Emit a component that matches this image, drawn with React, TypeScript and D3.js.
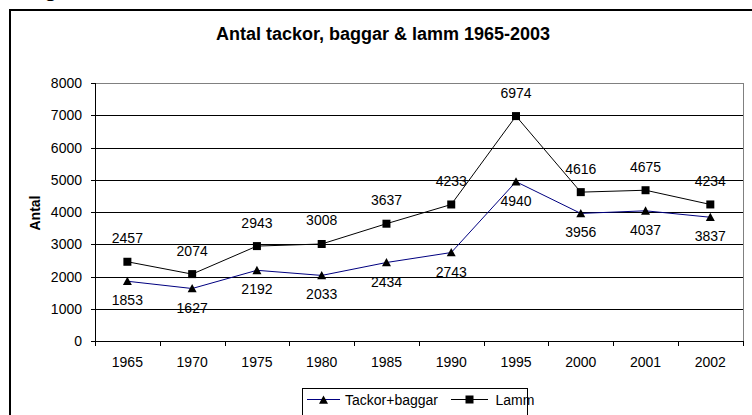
import React from "react";
import * as d3 from "d3";

const years = ["1965", "1970", "1975", "1980", "1985", "1990", "1995", "2000", "2001", "2002"];
const tackorBaggar = [1853, 1627, 2192, 2033, 2434, 2743, 4940, 3956, 4037, 3837];
const lamm = [2457, 2074, 2943, 3008, 3637, 4233, 6974, 4616, 4675, 4234];
const yTicks = [0, 1000, 2000, 3000, 4000, 5000, 6000, 7000, 8000];
const title = "Antal tackor, baggar & lamm 1965-2003";
const yLabel = "Antal";
const seriesNames = ["Tackor+baggar", "Lamm"];

const W = 752;
const H = 415;
const plot = { left: 95, right: 742.7, top: 83, bottom: 341 };
const FONT = "Arial, 'Liberation Sans', sans-serif";

export default function App() {
  const x = d3.scaleBand<string>().domain(years).range([plot.left, plot.right]).padding(0);
  const y = d3.scaleLinear().domain([0, 8000]).range([plot.bottom, plot.top]);
  const cx = (i: number) => (x(years[i]) as number) + x.bandwidth() / 2;
  const line = d3
    .line<number>()
    .x((_, i) => cx(i))
    .y((d) => y(d));

  const snap = (v: number) => Math.round(v) + 0.5;
  const boundaries = years.map((yr) => x(yr) as number).concat([plot.right]);

  const tri = (px: number, py: number, s = 4.5) =>
    `M${px},${py - s}L${px + s},${py + s * 0.85}L${px - s},${py + s * 0.85}Z`;

  return (
    <svg
      width={W}
      height={H}
      style={{ position: "absolute", left: 0, top: 0, background: "#fff" }}
      fontFamily={FONT}
    >
      <rect x={0} y={0} width={W} height={H} fill="#fff" />
      {/* cropped heading above the chart */}
      <text x={44} y={-4} fontSize={22} fontWeight="bold" fill="#000">
        g
      </text>
      {/* outer chart border */}
      <rect x={10} y={10} width={W + 20} height={H + 20} fill="none" stroke="#000" strokeWidth={2} />

      {/* title */}
      <text x={383} y={39.5} fontSize={18} fontWeight="bold" textAnchor="middle" fill="#000">
        {title}
      </text>

      {/* plot area border (gray) */}
      <rect
        x={snap(plot.left)}
        y={snap(plot.top)}
        width={Math.round(plot.right) - Math.round(plot.left)}
        height={Math.round(plot.bottom) - Math.round(plot.top)}
        fill="none"
        stroke="#808080"
        strokeWidth={1}
      />

      {/* gridlines */}
      {yTicks.map((t) => (
        <line
          key={"g" + t}
          x1={plot.left}
          x2={plot.right}
          y1={snap(y(t))}
          y2={snap(y(t))}
          stroke={t === 8000 ? "#808080" : "#000"}
          strokeWidth={1}
          shapeRendering="crispEdges"
        />
      ))}

      {/* axes */}
      <line x1={snap(plot.left)} x2={snap(plot.left)} y1={plot.top} y2={plot.bottom + 1} stroke="#000" shapeRendering="crispEdges" />
      <line x1={plot.left} x2={plot.right} y1={snap(plot.bottom)} y2={snap(plot.bottom)} stroke="#000" shapeRendering="crispEdges" />

      {/* y ticks and labels */}
      {yTicks.map((t) => (
        <g key={"yt" + t}>
          <line x1={plot.left - 4} x2={plot.left} y1={snap(y(t))} y2={snap(y(t))} stroke="#000" shapeRendering="crispEdges" />
          <text x={82} y={y(t) + 5} fontSize={14} textAnchor="end" fill="#000">
            {t}
          </text>
        </g>
      ))}

      {/* x ticks */}
      {boundaries.map((b, i) => (
        <line key={"xt" + i} x1={snap(b)} x2={snap(b)} y1={plot.bottom} y2={plot.bottom + 5} stroke="#000" shapeRendering="crispEdges" />
      ))}
      {years.map((yr, i) => (
        <text key={"xl" + yr} x={cx(i)} y={366.5} fontSize={14} textAnchor="middle" fill="#000">
          {yr}
        </text>
      ))}

      {/* y axis label */}
      <text
        transform={`translate(40,213) rotate(-90)`}
        fontSize={14}
        fontWeight="bold"
        textAnchor="middle"
        fill="#000"
      >
        {yLabel}
      </text>

      {/* lines */}
      <path d={line(tackorBaggar) || ""} fill="none" stroke="#000080" strokeWidth={1} />
      <path d={line(lamm) || ""} fill="none" stroke="#000" strokeWidth={1} />

      {/* markers */}
      {tackorBaggar.map((v, i) => (
        <path key={"tm" + i} d={tri(cx(i), y(v))} fill="#000" />
      ))}
      {lamm.map((v, i) => (
        <rect key={"lm" + i} x={cx(i) - 4} y={y(v) - 4} width={8} height={8} fill="#000" />
      ))}

      {/* data labels */}
      {lamm.map((v, i) => (
        <text key={"ll" + i} x={cx(i)} y={y(v) - 18.5} fontSize={14} textAnchor="middle" fill="#000">
          {v}
        </text>
      ))}
      {tackorBaggar.map((v, i) => (
        <text key={"tl" + i} x={cx(i)} y={y(v) + 24} fontSize={14} textAnchor="middle" fill="#000">
          {v}
        </text>
      ))}

      {/* legend */}
      <rect x={302.5} y={388.5} width={225} height={40} fill="#fff" stroke="#000" strokeWidth={1} />
      <line x1={307} x2={340} y1={399.5} y2={399.5} stroke="#000080" strokeWidth={1} />
      <path d={tri(323.5, 400)} fill="#000" />
      <text x={345} y={404.5} fontSize={14} fill="#000">
        {seriesNames[0]}
      </text>
      <line x1={451} x2={488} y1={399.5} y2={399.5} stroke="#000" strokeWidth={1} />
      <rect x={465.5} y={395.5} width={8} height={8} fill="#000" />
      <text x={495.5} y={404.5} fontSize={14} fill="#000">
        {seriesNames[1]}
      </text>
    </svg>
  );
}
